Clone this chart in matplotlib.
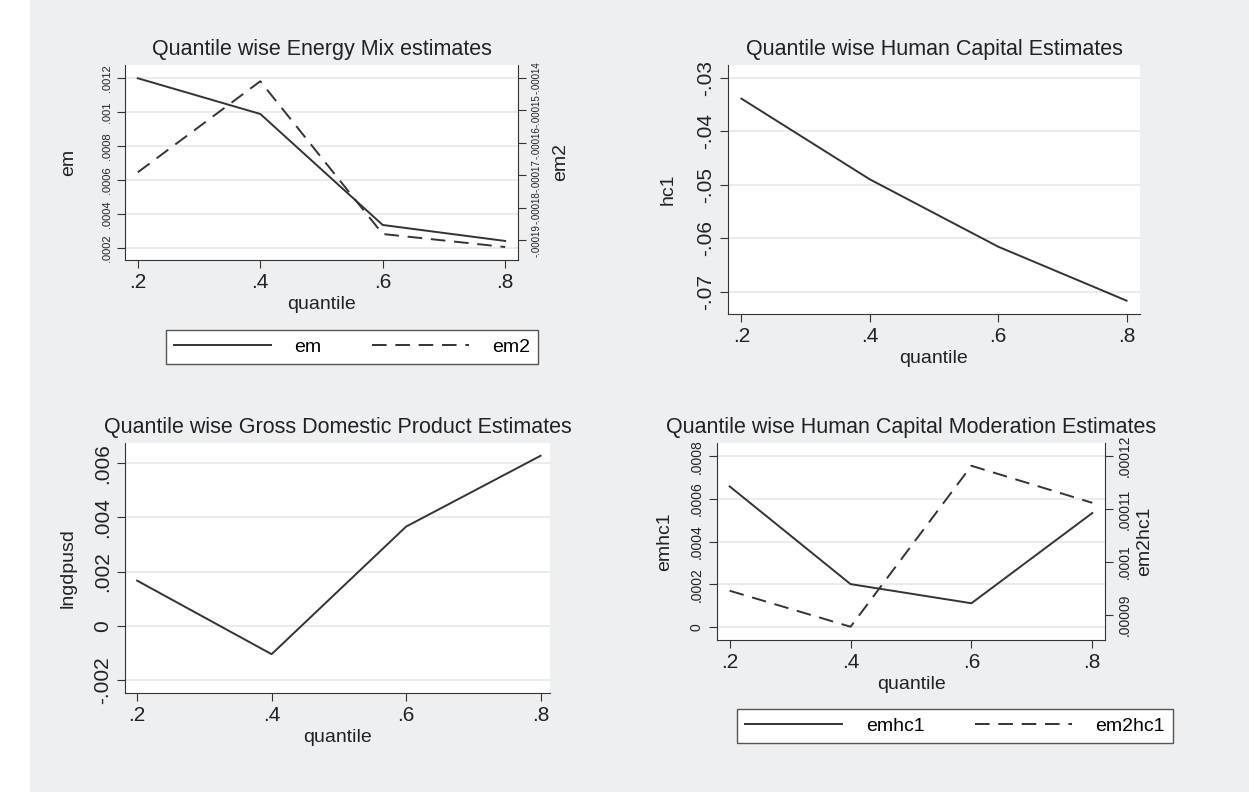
import matplotlib.pyplot as plt
from matplotlib.patches import Rectangle

plt.rcParams['font.family'] = ['Liberation Sans', 'DejaVu Sans']

quantile = [0.2, 0.4, 0.6, 0.8]
em = [0.0012, 0.00099, 0.000337, 0.000243]
em2 = [-0.000169, -0.000141, -0.000188, -0.000192]
hc1 = [-0.0339, -0.0490, -0.0616, -0.0717]
lngdpusd = [0.00167, -0.00104, 0.00366, 0.00627]
emhc1 = [0.000659, 0.0002, 0.00011, 0.000534]
em2hc1 = [0.0000946, 0.0000878, 0.0001182, 0.0001112]

x_ticks = [0.2, 0.4, 0.6, 0.8]
x_labels = ['.2', '.4', '.6', '.8']

W, H = 1249, 792
fig = plt.figure(figsize=(W / 100, H / 100), dpi=100)
fig.patch.set_facecolor('#edeff1')
fig.add_artist(Rectangle((0, 0), 30 / W, 1, transform=fig.transFigure,
                         facecolor='white', edgecolor='none', zorder=-1))

def px(l, t, r, b):
    return [l / W, 1 - b / H, (r - l) / W, (b - t) / H]

def fmt(v):
    s = ('%.5f' % v).rstrip('0').rstrip('.')
    s = s.replace('0.', '.', 1)
    return '0' if s in ('', '-0', '.') else s

def setup(ax, title, ylabel, yticks, ysize, xlim):
    ax.set_facecolor('white')
    for s in ['top', 'right']:
        ax.spines[s].set_visible(False)
    for s in ['left', 'bottom']:
        ax.spines[s].set_color('#333333')
    ax.set_xlim(*xlim)
    ax.set_xticks(x_ticks)
    ax.set_xticklabels(x_labels, fontsize=15)
    ax.set_yticks(yticks)
    ax.set_yticklabels([fmt(v) for v in yticks], rotation=90, va='center', fontsize=ysize)
    ax.tick_params(length=6, color='#333333', labelcolor='#222222')
    ax.grid(axis='y', color='#e6e8ea', linewidth=1.2)
    ax.set_axisbelow(True)
    ax.set_title(title, fontsize=15.5, color='#222222', pad=7)
    ax.set_xlabel('quantile', fontsize=14, labelpad=3, color='#222222')
    ax.set_ylabel(ylabel, fontsize=14, color='#222222')

dash = (0, (7.5, 4.5))

# top left
ax1 = fig.add_axes(px(125, 65, 518, 260))
l1, = ax1.plot(quantile, em, color='#333333', lw=1.4)
ax1.set_ylim(0.000131, 0.001278)
setup(ax1, 'Quantile wise Energy Mix estimates', 'em',
      [0.0002, 0.0004, 0.0006, 0.0008, 0.001, 0.0012], 8, (0.179, 0.821))
ax1.yaxis.labelpad = 18
ax1b = ax1.twinx()
l2, = ax1b.plot(quantile, em2, color='#333333', lw=1.4, linestyle=dash)
ax1b.set_ylim(-0.000196, -0.000136)
em2_ticks = [-0.00019, -0.00018, -0.00017, -0.00016, -0.00015, -0.00014]
ax1b.set_yticks(em2_ticks)
ax1b.set_yticklabels([fmt(v) for v in em2_ticks], rotation=90, va='center', fontsize=7)
ax1b.tick_params(length=6, color='#333333', labelcolor='#222222')
for s in ['top', 'left', 'bottom']:
    ax1b.spines[s].set_visible(False)
ax1b.spines['right'].set_color('#333333')
ax1b.set_ylabel('em2', fontsize=14, color='#222222', labelpad=8)
ax1.legend([l1, l2], ['em', 'em2'], ncol=2, loc='center',
           bbox_to_anchor=(352 / W, 1 - 347 / H), bbox_transform=fig.transFigure,
           fancybox=False, edgecolor='#555555', framealpha=1, fontsize=14,
           handlelength=5.0, columnspacing=2.6, borderpad=0.4, handletextpad=1.2)

# top right
ax2 = fig.add_axes(px(728, 65, 1140, 314))
ax2.plot(quantile, hc1, color='#333333', lw=1.4)
ax2.set_ylim(-0.0742, -0.0276)
setup(ax2, 'Quantile wise Human Capital Estimates', 'hc1',
      [-0.07, -0.06, -0.05, -0.04, -0.03], 15, (0.179, 0.821))
ax2.yaxis.labelpad = 14

# bottom left
ax3 = fig.add_axes(px(125, 443, 550, 693))
ax3.plot(quantile, lngdpusd, color='#333333', lw=1.4)
ax3.set_ylim(-0.00247, 0.00674)
setup(ax3, 'Quantile wise Gross Domestic Product Estimates', 'lngdpusd',
      [-0.002, 0, 0.002, 0.004, 0.006], 15, (0.182, 0.814))
ax3.yaxis.labelpad = 12

# bottom right
ax4 = fig.add_axes(px(717, 443, 1105, 640))
l3, = ax4.plot(quantile, emhc1, color='#333333', lw=1.4)
ax4.set_ylim(-0.0000626, 0.000863)
setup(ax4, 'Quantile wise Human Capital Moderation Estimates', 'emhc1',
      [0, 0.0002, 0.0004, 0.0006, 0.0008], 10, (0.179, 0.821))
ax4.yaxis.labelpad = 12
ax4b = ax4.twinx()
l4, = ax4b.plot(quantile, em2hc1, color='#333333', lw=1.4, linestyle=dash)
ax4b.set_ylim(0.0000853, 0.0001225)
em2hc1_ticks = [0.00009, 0.0001, 0.00011, 0.00012]
ax4b.set_yticks(em2hc1_ticks)
ax4b.set_yticklabels([fmt(v) for v in em2hc1_ticks], rotation=90, va='center', fontsize=10)
ax4b.tick_params(length=6, color='#333333', labelcolor='#222222')
for s in ['top', 'left', 'bottom']:
    ax4b.spines[s].set_visible(False)
ax4b.spines['right'].set_color('#333333')
ax4b.set_ylabel('em2hc1', fontsize=14, color='#222222', labelpad=3)
ax4.legend([l3, l4], ['emhc1', 'em2hc1'], ncol=2, loc='center',
           bbox_to_anchor=(955 / W, 1 - 726 / H), bbox_transform=fig.transFigure,
           fancybox=False, edgecolor='#555555', framealpha=1, fontsize=14,
           handlelength=5.0, columnspacing=2.6, borderpad=0.4, handletextpad=1.2)

fig.savefig('out.png', dpi=100, facecolor=fig.get_facecolor())
